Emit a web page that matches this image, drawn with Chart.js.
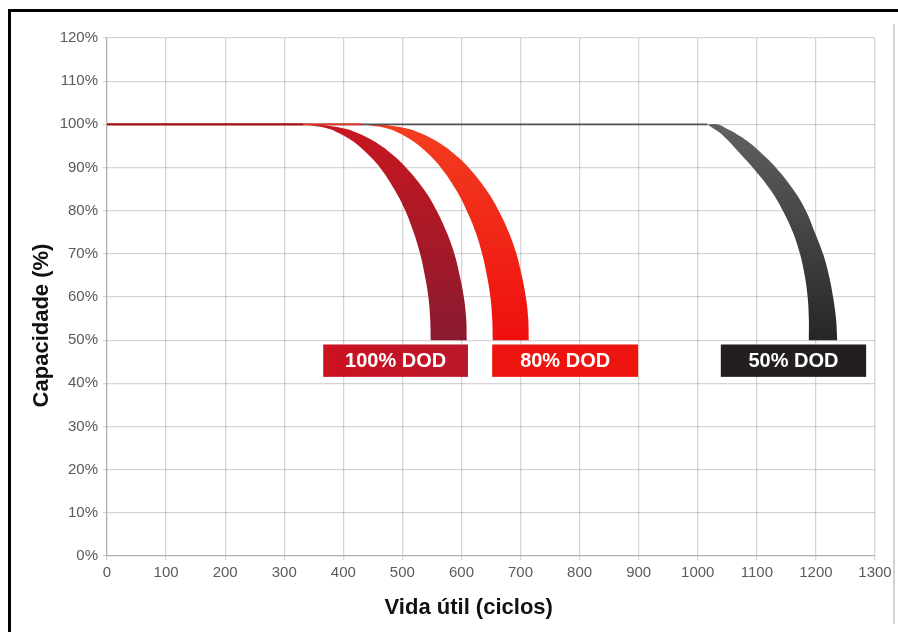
<!DOCTYPE html>
<html>
<head>
<meta charset="utf-8">
<script src="https://cdn.jsdelivr.net/npm/chart.js@4.4.1/dist/chart.umd.min.js"></script>
<style>
  html, body { margin: 0; padding: 0; background: #fff; }
  #wrap { position: relative; width: 898px; height: 632px; overflow: hidden; }
  #c { position: absolute; left: 0; top: 0; }
  #frame { position: absolute; left: 8px; top: 9px; width: 895px; height: 630px;
           border-top: 3px solid #000; border-left: 3px solid #000; pointer-events: none; }
  #edge { position: absolute; left: 893px; top: 24px; width: 2px; height: 600px; background: #d2d2d2; }
</style>
</head>
<body>
<div id="wrap">
  <canvas id="c" width="898" height="632"></canvas>
  <div id="frame"></div>
  <div id="edge"></div>
</div>
<script>
// Capacity (%) versus cycle life for three depths of discharge.
// Each band is bounded by an outer and an inner edge: [cycles, capacity %].
const dod100Outer = [[332,100],[352,100],[403,99],[424,98],[453,96],[483,93],[506,90],[536,85],[558,80],
                     [575,75],[588,70],[597,65],[604,60],[608,55],[609,50]];
const dod100Inner = [[332,100],[375,99],[392,98],[417,96],[442,93],[462,90],[486,85],[505,80],
                     [519,75],[530,70],[538,65],[544,60],[547,55],[548,50]];

const dod80Outer  = [[432,100],[458,100],[509,99],[530,98],[559,96],[589,93],[612,90],[641,85],[663,80],
                     [680,75],[693,70],[702,65],[709,60],[713,55],[714,50]];
const dod80Inner  = [[432,100],[476,99],[494,98],[519,96],[545,93],[565,90],[590,85],[609,80],
                     [624,75],[635,70],[643,65],[649,60],[652,55],[653,50]];

const dod50Outer  = [[1016,100],[1033,100],[1049,99],[1063,98],[1085,96],[1110,93],[1132,90],[1161,85],[1183,80],
                     [1198,75],[1212,70],[1222,65],[1229,60],[1234,55],[1236,50]];
const dod50Inner  = [[1016,100],[1027,99],[1038,98],[1053,96],[1073,93],[1093,90],[1122,85],[1144,80],
                     [1161,75],[1173,70],[1181,65],[1186,60],[1188,55],[1188,50]];

// Full capacity held until the curve starts to fall.
const plateauCapacity = 100;
const plateau100End = 332;
const plateau80End  = 432;
const plateau50End  = 1016;

// Series names and their tags (cycles span, capacity span).
const seriesNames = ['100% DOD', '80% DOD', '50% DOD'];
const tagFrom   = [366, 652, 1039];
const tagTo     = [611, 899, 1285];
const tagTop    = 49;
const tagBottom = 41.5;

// Axis ticks
const xMin = 0, xMax = 1300, xStep = 100;
const yMin = 0, yMax = 120, yStep = 10;

const FONT = "'Liberation Sans', Arial, Helvetica, sans-serif";

// Closed outline: outer edge down, square bottom, inner edge back up.
function ring(outer, inner) {
  const pts = outer.map(([x, y]) => ({x, y}));
  pts.push({...pts[pts.length - 1]});
  const back = inner.slice().reverse().map(([x, y]) => ({x, y}));
  pts.push({...back[0]});
  pts.push(...back);
  return pts;
}

function flat(end) {
  return [{x: 0, y: plateauCapacity}, {x: end, y: plateauCapacity}];
}

function vGradient(top, bottom) {
  return (ctx) => {
    const chart = ctx.chart;
    const y = chart.scales && chart.scales.y;
    if (!chart.chartArea || !y) return bottom;
    const g = chart.ctx.createLinearGradient(0, y.getPixelForValue(100), 0, y.getPixelForValue(50));
    g.addColorStop(0, top);
    g.addColorStop(1, bottom);
    return g;
  };
}

const bandStyle = {
  type: 'line', fill: 'shape', tension: 0.4, pointRadius: 0,
  borderWidth: 0, borderColor: 'rgba(0,0,0,0)'
};
const lineStyle = {
  type: 'line', fill: false, tension: 0, pointRadius: 0, borderWidth: 1.6
};

const tagPlugin = {
  id: 'tags',
  afterDatasetsDraw(chart) {
    const {ctx, scales: {x, y}} = chart;
    const fills = [
      (c, l, r) => { const g = c.createLinearGradient(l, 0, r, 0); g.addColorStop(0, '#cc1220'); g.addColorStop(1, '#b8182b'); return g; },
      () => '#ee1410',
      () => '#231f20'
    ];
    ctx.save();
    seriesNames.forEach((name, i) => {
      const l = x.getPixelForValue(tagFrom[i]);
      const r = x.getPixelForValue(tagTo[i]);
      const t = y.getPixelForValue(tagTop);
      const b = y.getPixelForValue(tagBottom);
      ctx.fillStyle = fills[i](ctx, l, r);
      ctx.fillRect(l, t, r - l, b - t);
      ctx.fillStyle = '#ffffff';
      ctx.font = 'bold 20px ' + FONT;
      ctx.textAlign = 'center';
      ctx.textBaseline = 'middle';
      ctx.fillText(name, (l + r) / 2, (t + b) / 2 + 1);
    });
    ctx.restore();
  },
  afterDraw(chart) {
    const {ctx, chartArea} = chart;
    ctx.save();
    ctx.fillStyle = '#111';
    ctx.font = 'bold 22px ' + FONT;
    ctx.textAlign = 'center';
    ctx.textBaseline = 'middle';
    ctx.fillText('Vida útil (ciclos)', chartArea.left + chartArea.width * 0.471, chartArea.bottom + 52);
    ctx.translate(chartArea.left - 65, chartArea.top + chartArea.height * 0.555);
    ctx.rotate(-Math.PI / 2);
    ctx.fillText('Capacidade (%)', 0, 0);
    ctx.restore();
  }
};

new Chart(document.getElementById('c'), {
  data: {
    datasets: [
      {...lineStyle, label: 'p100', data: flat(plateau100End), borderColor: '#a3141f', order: 1},
      {...lineStyle, label: 'p80',  data: flat(plateau80End),  borderColor: '#e8321e', order: 2},
      {...lineStyle, label: 'p50',  data: flat(plateau50End),  borderColor: '#505050', order: 3},
      {...bandStyle, label: seriesNames[0], data: ring(dod100Outer, dod100Inner),
        backgroundColor: vGradient('#c8171f', '#8a1a30'), order: 4},
      {...bandStyle, label: seriesNames[1], data: ring(dod80Outer, dod80Inner),
        backgroundColor: vGradient('#f23e20', '#ef100e'), order: 5},
      {...bandStyle, label: seriesNames[2], data: ring(dod50Outer, dod50Inner),
        backgroundColor: vGradient('#616161', '#262626'), order: 6}
    ]
  },
  options: {
    responsive: false,
    animation: false,
    events: [],
    layout: {padding: {top: 38, right: 23, bottom: 0, left: 0}},
    plugins: {legend: {display: false}, tooltip: {enabled: false}},
    scales: {
      x: {
        type: 'linear', min: xMin, max: xMax,
        afterFit: (s) => { s.height = 76; },
        ticks: {stepSize: xStep, color: '#5a5a5a', padding: 4, maxRotation: 0,
                font: {family: FONT, size: 15}, callback: (v) => String(v)},
        grid: {color: 'rgba(0,0,0,0.16)', lineWidth: 1.3, tickLength: 4},
        border: {color: 'rgba(0,0,0,0.18)', width: 1.3}
      },
      y: {
        type: 'linear', min: yMin, max: yMax,
        afterFit: (s) => { s.width = 107; },
        ticks: {stepSize: yStep, color: '#5a5a5a', padding: 5,
                font: {family: FONT, size: 15}, callback: (v) => v + '%'},
        grid: {color: 'rgba(0,0,0,0.16)', lineWidth: 1.3, tickLength: 4},
        border: {color: 'rgba(0,0,0,0.18)', width: 1.3}
      }
    }
  },
  plugins: [tagPlugin]
});
</script>
</body>
</html>
